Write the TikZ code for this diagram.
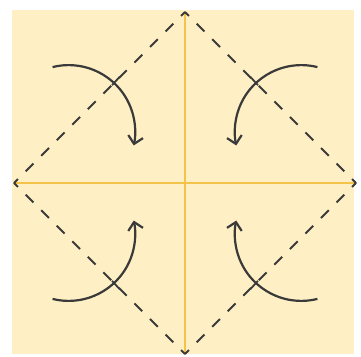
\documentclass[tikz,border=0pt]{standalone}
\usepackage{xcolor}
\usepackage{tikz}
\usetikzlibrary{arrows.meta}

\definecolor{paper}{HTML}{FEEFC4}
\definecolor{crease}{HTML}{F4C44A}
\definecolor{ink}{HTML}{3A3A3A}

\begin{document}
\begin{tikzpicture}[x=1pt, y=1pt,
    fold/.style={ink, line width=1.9pt, dash pattern=on 11pt off 10.98pt, dash phase=5.5pt},
    flap/.style={ink, line width=2.2pt, -{Straight Barb[length=7.5pt, width=15pt]}}]
    % 1. Tờ giấy
    \useasboundingbox (-185,-173) rectangle (176,183);
    \fill[paper] (-173,-171) rectangle (169,173);

    % 2. Hai nếp gấp giữa
    \draw[crease, line width=1.8pt] (0,171) -- (0,-171);
    \draw[crease, line width=1.8pt] (-171,0) -- (171,0);

    % 3. Hình vuông nét đứt nối trung điểm các cạnh
    \coordinate (T) at (0,171);
    \coordinate (L) at (-171,0);
    \coordinate (B) at (0,-171);
    \coordinate (R) at (171,0);
    \draw[fold] (T) -- (L);
    \draw[fold] (L) -- (B);
    \draw[fold] (B) -- (R);
    \draw[fold] (R) -- (T);

    % 4. Bốn góc gấp vào tâm (mũi tên cong + vạch nhỏ)
    \foreach \sx/\sy in {1/1, -1/1, 1/-1, -1/-1} {
        \begin{scope}[xscale=\sx, yscale=\sy]
            \draw[flap] (-132.4,115.9) arc[start angle=104, end angle=-12, radius=66.5];
            \draw[ink, line width=1.8pt] (-73,97.8) -- (-65.5,106);
        \end{scope}
    }

\end{tikzpicture}
\end{document}
